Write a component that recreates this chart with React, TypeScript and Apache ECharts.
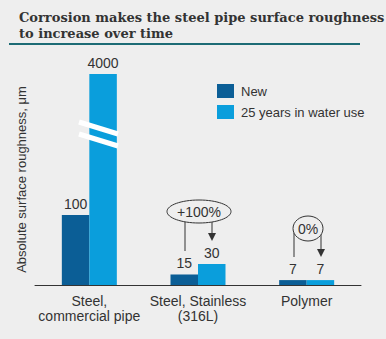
import React, { useEffect, useRef } from "react";
import * as echarts from "echarts";

const categories = ["Steel,\ncommercial pipe", "Steel, Stainless\n(316L)", "Polymer"];
const newValues = [100, 15, 7];
const agedValues = [4000, 30, 7];
const seriesNames = ["New", "25 years in water use"];
const titleText = "Corrosion makes the steel pipe surface roughness\nto increase over time";
const yAxisName = "Absolute surface roughness, μm";
const annotations = ["+100%", "0%"];

const TEXT = "#333333";
const DARK = "#0b5e96";
const LIGHT = "#0a9edc";
const BG = "#eeeeee";
const FONT = "'Liberation Sans', Arial, sans-serif";

export default function App() {
  const ref = useRef<HTMLDivElement>(null);
  useEffect(() => {
    if (!ref.current) return;
    const chart = echarts.init(ref.current, undefined, { renderer: "svg" });
    const arrowStroke = { stroke: TEXT, lineWidth: 1 };
    chart.setOption({
      animation: false,
      backgroundColor: BG,
      textStyle: { fontFamily: FONT },
      title: {
        text: titleText,
        left: 14,
        top: 4,
        textStyle: {
          fontFamily: "'DejaVu Serif', serif",
          fontWeight: "bold",
          fontSize: 13,
          lineHeight: 16,
          color: TEXT,
        },
      },
      legend: {
        orient: "vertical",
        left: 212,
        top: 79,
        itemWidth: 17,
        itemHeight: 14,
        itemGap: 7,
        icon: "rect",
        textStyle: { fontSize: 13, color: TEXT, fontFamily: FONT, padding: [0, 0, 0, 2] },
        data: seriesNames,
      },
      grid: { left: 35, right: 25, top: 74, bottom: 54 },
      xAxis: {
        type: "category",
        data: categories,
        axisLine: { lineStyle: { color: TEXT, width: 1 } },
        axisTick: { show: false },
        axisLabel: { interval: 0, fontSize: 14, color: TEXT, lineHeight: 15, margin: 8, fontFamily: FONT },
      },
      yAxis: {
        type: "value",
        min: 0,
        max: 4000,
        breaks: [{ start: 220, end: 3919, gap: 0 }],
        breakArea: { show: false },
        axisLine: { show: false },
        axisTick: { show: false },
        axisLabel: { show: false },
        splitLine: { show: false },
        name: yAxisName,
        nameLocation: "middle",
        nameRotate: 90,
        nameGap: 7,
        nameTextStyle: { fontSize: 13, color: TEXT, fontFamily: FONT },
      },
      series: [
        {
          name: seriesNames[0],
          type: "bar",
          data: newValues,
          barWidth: 27.5,
          barGap: "0%",
          itemStyle: { color: DARK },
          label: { show: true, position: "top", distance: 4, fontSize: 14, color: TEXT, fontFamily: FONT },
        },
        {
          name: seriesNames[1],
          type: "bar",
          data: agedValues,
          barWidth: 27.5,
          barGap: "0%",
          itemStyle: { color: LIGHT },
          label: { show: true, position: "top", distance: 4, fontSize: 14, color: TEXT, fontFamily: FONT },
        },
      ],
      graphic: [
        { type: "line", shape: { x1: 9, y1: 44, x2: 360, y2: 44 }, style: { stroke: "#1d6b75", lineWidth: 2 } },
        // break marks
        { type: "line", z: 100, shape: { x1: 79, y1: 122, x2: 118, y2: 134 }, style: { stroke: "#ffffff", lineWidth: 5 } },
        { type: "line", z: 100, shape: { x1: 79, y1: 134, x2: 118, y2: 146 }, style: { stroke: "#ffffff", lineWidth: 5 } },
        // +100% annotation
        { type: "line", shape: { x1: 185, y1: 222, x2: 185, y2: 251 }, style: arrowStroke },
        { type: "line", shape: { x1: 212, y1: 222, x2: 212, y2: 234 }, style: arrowStroke },
        { type: "polygon", shape: { points: [[208, 233], [216, 233], [212, 241]] }, style: { fill: TEXT } },
        { type: "ellipse", shape: { cx: 199, cy: 211.5, rx: 32, ry: 11.5 }, style: { fill: BG, stroke: TEXT, lineWidth: 1 } },
        {
          type: "text",
          style: { text: annotations[0], x: 199, y: 212, align: "center", verticalAlign: "middle", fontSize: 14, fill: TEXT, fontFamily: FONT },
          z: 110,
        },
        // 0% annotation
        { type: "line", shape: { x1: 294, y1: 233, x2: 294, y2: 257 }, style: arrowStroke },
        { type: "line", shape: { x1: 321, y1: 234, x2: 321, y2: 250 }, style: arrowStroke },
        { type: "polygon", shape: { points: [[317, 249], [325, 249], [321, 257]] }, style: { fill: TEXT } },
        { type: "ellipse", shape: { cx: 308, cy: 228.5, rx: 15, ry: 12.5 }, style: { fill: BG, stroke: TEXT, lineWidth: 1 } },
        {
          type: "text",
          style: { text: annotations[1], x: 308, y: 229, align: "center", verticalAlign: "middle", fontSize: 14, fill: TEXT, fontFamily: FONT },
          z: 110,
        },
      ],
    });
    return () => chart.dispose();
  }, []);
  return (
    <div
      ref={ref}
      style={{ position: "fixed", left: 0, top: 0, width: 386, height: 339 }}
    />
  );
}
